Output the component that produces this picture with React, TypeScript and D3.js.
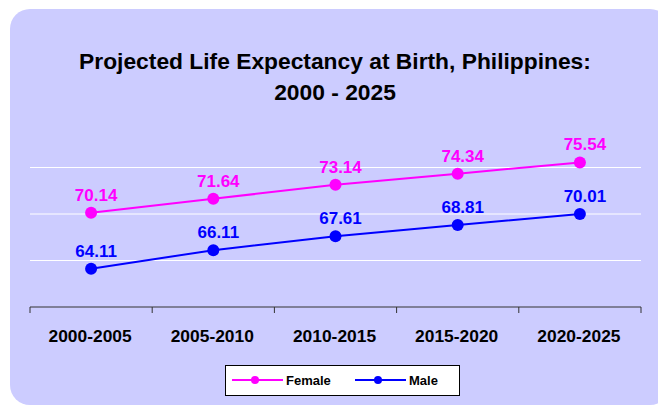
import * as d3 from 'd3'

const categories = ['2000-2005', '2005-2010', '2010-2015', '2015-2020', '2020-2025']
const female = [70.14, 71.64, 73.14, 74.34, 75.54]
const male = [64.11, 66.11, 67.61, 68.81, 70.01]
const gridValues = [65, 70, 75]

const W = 658
const H = 406
const FONT = 'Liberation Sans, Arial, sans-serif'

const series = [
  { name: 'Female', values: female, color: '#FF00FF' },
  { name: 'Male', values: male, color: '#0000FF' },
]

export default function App() {
  const x = d3.scaleBand<string>().domain(categories).range([30, 641]).paddingInner(0).paddingOuter(0)
  const y = d3.scaleLinear().domain([60, 80]).range([307, 121])
  const cx = (c: string) => (x(c) ?? 0) + x.bandwidth() / 2
  const line = d3
    .line<number>()
    .x((_, i) => cx(categories[i]))
    .y((d) => y(d))

  // category boundaries get the tick marks
  const bounds = [...categories.map((c) => x(c) ?? 0), 641]

  return (
    <svg
      width={W}
      height={H}
      style={{ position: 'absolute', left: 0, top: 0, display: 'block' }}
      fontFamily={FONT}
    >
      <rect x={0} y={0} width={W} height={H} fill="#ffffff" />
      <rect x={10} y={9} width={660} height={396} rx={20} ry={20} fill="#CCCCFF" />

      {/* title */}
      <text x={335} y={69} textAnchor="middle" fontSize={22.8} fontWeight="bold" fill="#000">
        Projected Life Expectancy at Birth, Philippines:
      </text>
      <text x={335} y={100} textAnchor="middle" fontSize={22.8} fontWeight="bold" fill="#000">
        2000 - 2025
      </text>

      {/* gridlines */}
      {gridValues.map((v) => (
        <line key={v} x1={30} x2={641} y1={y(v)} y2={y(v)} stroke="#ffffff" strokeWidth={1} />
      ))}

      {/* x axis */}
      <line x1={30} x2={641} y1={y(60)} y2={y(60)} stroke="#333333" strokeWidth={1} />
      {bounds.map((b, i) => (
        <line key={i} x1={b} x2={b} y1={y(60)} y2={y(60) + 6} stroke="#333333" strokeWidth={1} />
      ))}
      {categories.map((c) => (
        <text key={c} x={cx(c) - 1} y={342} textAnchor="middle" fontSize={17.4} fontWeight="bold" fill="#000">
          {c}
        </text>
      ))}

      {/* series */}
      {series.map((s) => (
        <g key={s.name}>
          <path d={line(s.values) ?? ''} fill="none" stroke={s.color} strokeWidth={2} />
          {s.values.map((v, i) => (
            <circle key={i} cx={cx(categories[i])} cy={y(v)} r={6} fill={s.color} />
          ))}
          {s.values.map((v, i) => (
            <text
              key={'l' + i}
              x={cx(categories[i]) + 5}
              y={y(v) - 12}
              textAnchor="middle"
              fontSize={17}
              fontWeight="bold"
              fill={s.color}
            >
              {v.toFixed(2)}
            </text>
          ))}
        </g>
      ))}

      {/* legend */}
      <rect x={225.5} y={365.5} width={234} height={30} fill="#ffffff" stroke="#000" strokeWidth={1} />
      {series.map((s, i) => {
        const lx = i === 0 ? 232 : 355
        return (
          <g key={s.name}>
            <line x1={lx} x2={lx + 51} y1={380} y2={380} stroke={s.color} strokeWidth={2} />
            <circle cx={lx + 23} cy={380} r={4} fill={s.color} />
            <text x={lx + 54} y={385} fontSize={13} fontWeight="bold" fill="#000">
              {s.name}
            </text>
          </g>
        )
      })}
    </svg>
  )
}
